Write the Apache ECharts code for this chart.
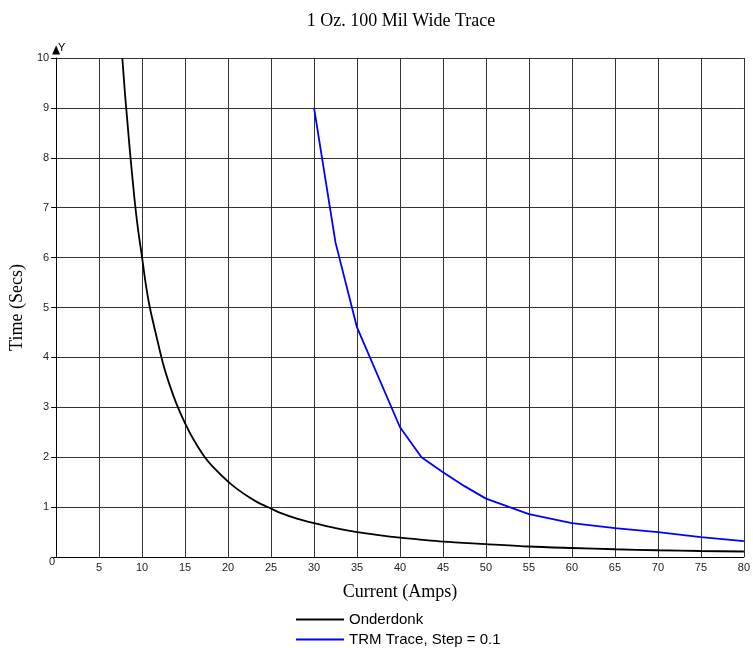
<!DOCTYPE html>
<html>
<head>
<meta charset="utf-8">
<script src="https://cdn.jsdelivr.net/npm/echarts@6/dist/echarts.min.js"></script>
<style>html,body{margin:0;padding:0;background:#fff}#c{width:753px;height:648px}</style>
</head>
<body>
<div id="c"></div>
<script>
var titleText = '1 Oz. 100 Mil Wide Trace';
var xName = 'Current (Amps)';
var yName = 'Time (Secs)';
var seriesNames = ['Onderdonk', 'TRM Trace, Step = 0.1'];

var onderdonkX = [7.7, 8.0, 8.3, 8.6, 9.1, 9.5, 10.0, 10.4, 10.9, 11.7, 12.4, 13.2, 14.0, 15.0, 16.0, 17.3, 18.5, 20.0, 21.0, 22.5, 23.5, 25.0, 26.0, 28.0, 30.0, 32.5, 35.0, 37.5, 40.0, 45.0, 50.0, 55.0, 60.0, 65.0, 70.0, 75.0, 80.0];
var onderdonkY = [10.0, 9.3, 8.7, 8.1, 7.2, 6.6, 6.0, 5.5, 5.0, 4.4, 3.9, 3.45, 3.07, 2.68, 2.35, 2.0, 1.76, 1.51, 1.37, 1.19, 1.09, 0.97, 0.89, 0.77, 0.68, 0.58, 0.5, 0.44, 0.39, 0.31, 0.26, 0.21, 0.18, 0.155, 0.135, 0.12, 0.11];

var trmX = [30, 32.5, 35, 40, 42.5, 45, 47.5, 50, 55, 60, 65, 70, 75, 80];
var trmY = [9.0, 6.3, 4.6, 2.6, 2.0, 1.7, 1.42, 1.17, 0.86, 0.68, 0.58, 0.5, 0.4, 0.32];

function pairs(xs, ys) { return xs.map(function (x, i) { return [x, ys[i]]; }); }

var legendBase = {
  orient: 'horizontal', left: 291, itemWidth: 48, itemHeight: 10, itemGap: 5,
  icon: 'path://M0,4 L48,4 L48,6 L0,6 Z',
  textStyle: { fontFamily: 'Liberation Sans', fontSize: 15, color: '#000' }
};

var chart = echarts.init(document.getElementById('c'));
chart.setOption({
  animation: false,
  backgroundColor: '#fff',
  title: {
    text: titleText, left: 396, top: 7, textAlign: 'center',
    textStyle: { fontFamily: 'Liberation Serif', fontSize: 18, fontWeight: 'normal', color: '#000' }
  },
  legend: [
    Object.assign({}, legendBase, { top: 607, data: [seriesNames[0]] }),
    Object.assign({}, legendBase, { top: 627, data: [seriesNames[1]] })
  ],
  graphic: [{
    type: 'text', left: 58, top: 42,
    style: { text: 'Y', fontFamily: 'Liberation Sans', fontSize: 11, fill: '#000' }
  }],
  grid: { left: 55, right: 3, top: 58, bottom: 91, containLabel: false },
  xAxis: {
    type: 'value', min: 0, max: 80, interval: 5,
    name: xName, nameLocation: 'middle', nameGap: 26,
    nameTextStyle: { fontFamily: 'Liberation Serif', fontSize: 18, color: '#000' },
    axisLine: { show: true, lineStyle: { color: '#000', width: 1 } },
    axisTick: { show: false },
    axisLabel: {
      fontFamily: 'Liberation Sans', fontSize: 11, color: '#222', margin: 5,
      formatter: function (v) { return v === 0 ? '{z|0}' : String(v); },
      rich: { z: { fontFamily: 'Liberation Sans', fontSize: 11, color: '#222', padding: [-6, 8, 0, 0] } }
    },
    splitLine: { show: true, lineStyle: { color: '#333', width: 1 } }
  },
  yAxis: {
    type: 'value', min: 0, max: 10, interval: 1,
    name: yName, nameLocation: 'middle', nameGap: 29,
    nameTextStyle: { fontFamily: 'Liberation Serif', fontSize: 18, color: '#000' },
    axisLine: { show: true, symbol: ['none', 'triangle'], symbolSize: [8, 9], symbolOffset: [0, 8], lineStyle: { color: '#000', width: 1 } },
    axisTick: { show: true, inside: false, length: 5, lineStyle: { color: '#000' } },
    axisLabel: {
      fontFamily: 'Liberation Sans', fontSize: 11, color: '#222', margin: 7,
      formatter: function (v) { return v === 0 ? '' : String(v); }
    },
    splitLine: { show: true, lineStyle: { color: '#333', width: 1 } }
  },
  series: [{
    name: seriesNames[0], type: 'line', data: pairs(onderdonkX, onderdonkY),
    smooth: 0.3, showSymbol: false, color: '#000',
    lineStyle: { color: '#000', width: 1.8 }, z: 3
  }, {
    name: seriesNames[1], type: 'line', data: pairs(trmX, trmY),
    smooth: false, showSymbol: false, color: '#0000ff',
    lineStyle: { color: '#0000ff', width: 1.8 }, z: 3
  }]
});
</script>
</body>
</html>
